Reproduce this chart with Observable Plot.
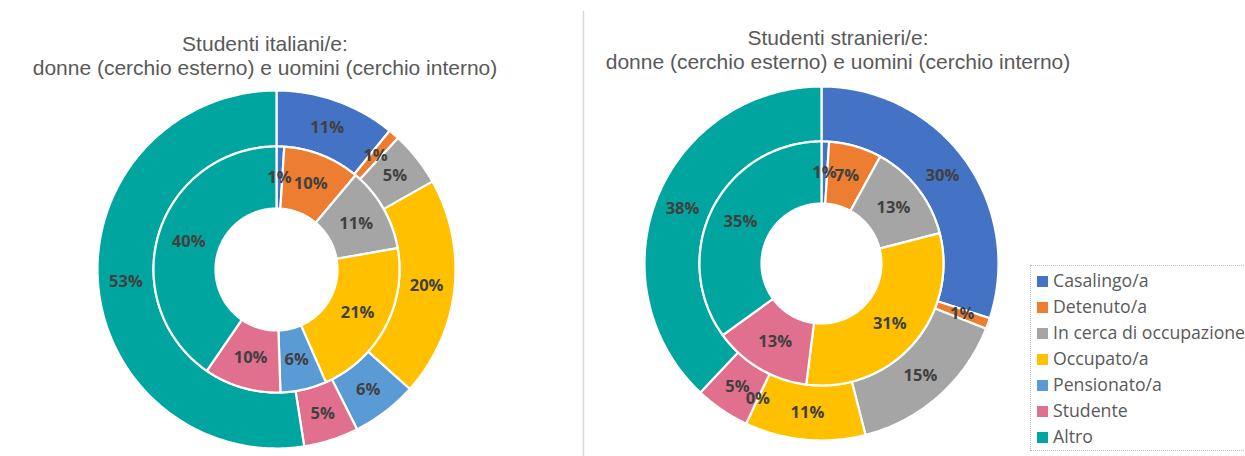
<!DOCTYPE html>
<html><head><meta charset="utf-8">
<script src="https://cdn.jsdelivr.net/npm/d3@7"></script>
<script src="https://cdn.jsdelivr.net/npm/@observablehq/plot@0.6"></script>
<style>
body{margin:0;background:#fff;}
#wrap{position:relative;width:1245px;height:456px;overflow:hidden;font-family:"Open Sans",sans-serif;}
.title{position:absolute;text-align:center;color:#595959;font-family:"Liberation Sans",Arial,sans-serif;font-size:21px;height:23.5px;line-height:23.5px;white-space:nowrap;transform:translateX(-50%);}
#legend{position:absolute;left:1030px;top:265px;width:240px;height:186px;border:1px dotted #bfbfbf;box-sizing:border-box;}
.item{position:absolute;left:6px;height:20px;line-height:20px;font-size:17.7px;color:#595959;white-space:nowrap;}
.sw{display:inline-block;width:11px;height:11px;margin-right:5px;vertical-align:0px;}
#chart{position:absolute;left:0;top:0;}
</style></head>
<body><div id="wrap"><div id="chart"></div></div>
<script>
const categories = ["Casalingo/a","Detenuto/a","In cerca di occupazione","Occupato/a","Pensionato/a","Studente","Altro"];
const colors = ["#4472C4","#ED7D31","#A5A5A5","#FFC000","#5B9BD5","#E0708E","#00A59F"];
const italianiDonne  = [11,1,5,20,6,5,53];
const italianiUomini = [1,10,11,21,6,10,40];
const stranieriDonne  = [30,1,15,11,0,5,38];
const stranieriUomini = [1,7,13,31,null,13,35];
const titles = [
  ["Studenti italiani/e:","donne (cerchio esterno) e uomini (cerchio interno)"],
  ["Studenti stranieri/e:","donne (cerchio esterno) e uomini (cerchio interno)"]
];

// layout
const W = 1245, H = 456;
const donuts = [
  {cx:276, cy:269, title:titles[0], tx:265, ty:32, rings:[{vals:italianiDonne, r0:123, r1:179},{vals:italianiUomini, r0:61, r1:123}]},
  {cx:821, cy:263, title:titles[1], tx:838, ty:26, rings:[{vals:stranieriDonne, r0:122, r1:177},{vals:stranieriUomini, r0:60, r1:122}]}
];

const polys = [], labels = [];
donuts.forEach((d, di) => {
  d.rings.forEach((ring, ri) => {
    const total = d3.sum(ring.vals.map(v => v || 0));
    let cum = 0;
    ring.vals.forEach((v, i) => {
      if (v == null) return;
      const a0 = cum / total * 2 * Math.PI;
      cum += v;
      const a1 = cum / total * 2 * Math.PI;
      const id = `${di}-${ri}-${i}`;
      if (v > 0) {
        const n = Math.max(2, Math.ceil((a1 - a0) / (Math.PI / 180)));
        const pts = [];
        for (let k = 0; k <= n; k++) { const a = a0 + (a1 - a0) * k / n; pts.push([a, ring.r1]); }
        for (let k = n; k >= 0; k--) { const a = a0 + (a1 - a0) * k / n; pts.push([a, ring.r0]); }
        pts.push(pts[0]);
        pts.forEach(([a, r]) => polys.push({id, cat: categories[i], x: d.cx + r * Math.sin(a), y: d.cy - r * Math.cos(a)}));
      }
      const am = (a0 + a1) / 2, rm = (ring.r0 + ring.r1) / 2;
      labels.push({x: d.cx + rm * Math.sin(am), y: d.cy - rm * Math.cos(am), text: v + "%"});
    });
  });
});

const plot = Plot.plot({
  width: W, height: H, margin: 0,
  x: {domain: [0, W], axis: null},
  y: {domain: [H, 0], axis: null},
  color: {domain: categories, range: colors},
  style: {fontFamily: "'Open Sans', sans-serif", background: "white"},
  marks: [
    Plot.ruleX([583], {y1: 11, y2: H, stroke: "#d9d9d9", strokeWidth: 1.5}),
    Plot.line(polys, {x: "x", y: "y", z: "id", fill: "cat", stroke: "white", strokeWidth: 2.2, curve: "linear"}),
    Plot.text(labels, {x: "x", y: "y", text: "text", fill: "#404040", fontSize: 16.5, fontWeight: "bold"})
  ]
});
document.getElementById("chart").appendChild(plot);

const wrap = document.getElementById("wrap");
donuts.forEach(d => {
  d.title.forEach((line, li) => {
    const t = document.createElement("div");
    t.className = "title";
    t.style.left = d.tx + "px";
    t.style.top = (d.ty + li * 23.5) + "px";
    t.textContent = line;
    wrap.appendChild(t);
  });
});
const lg = document.createElement("div");
lg.id = "legend";
categories.forEach((c, i) => {
  const it = document.createElement("div");
  it.className = "item";
  it.style.top = (4 + i * 26) + "px";
  it.innerHTML = `<span class="sw" style="background:${colors[i]}"></span>${c}`;
  lg.appendChild(it);
});
wrap.appendChild(lg);
</script></body></html>
